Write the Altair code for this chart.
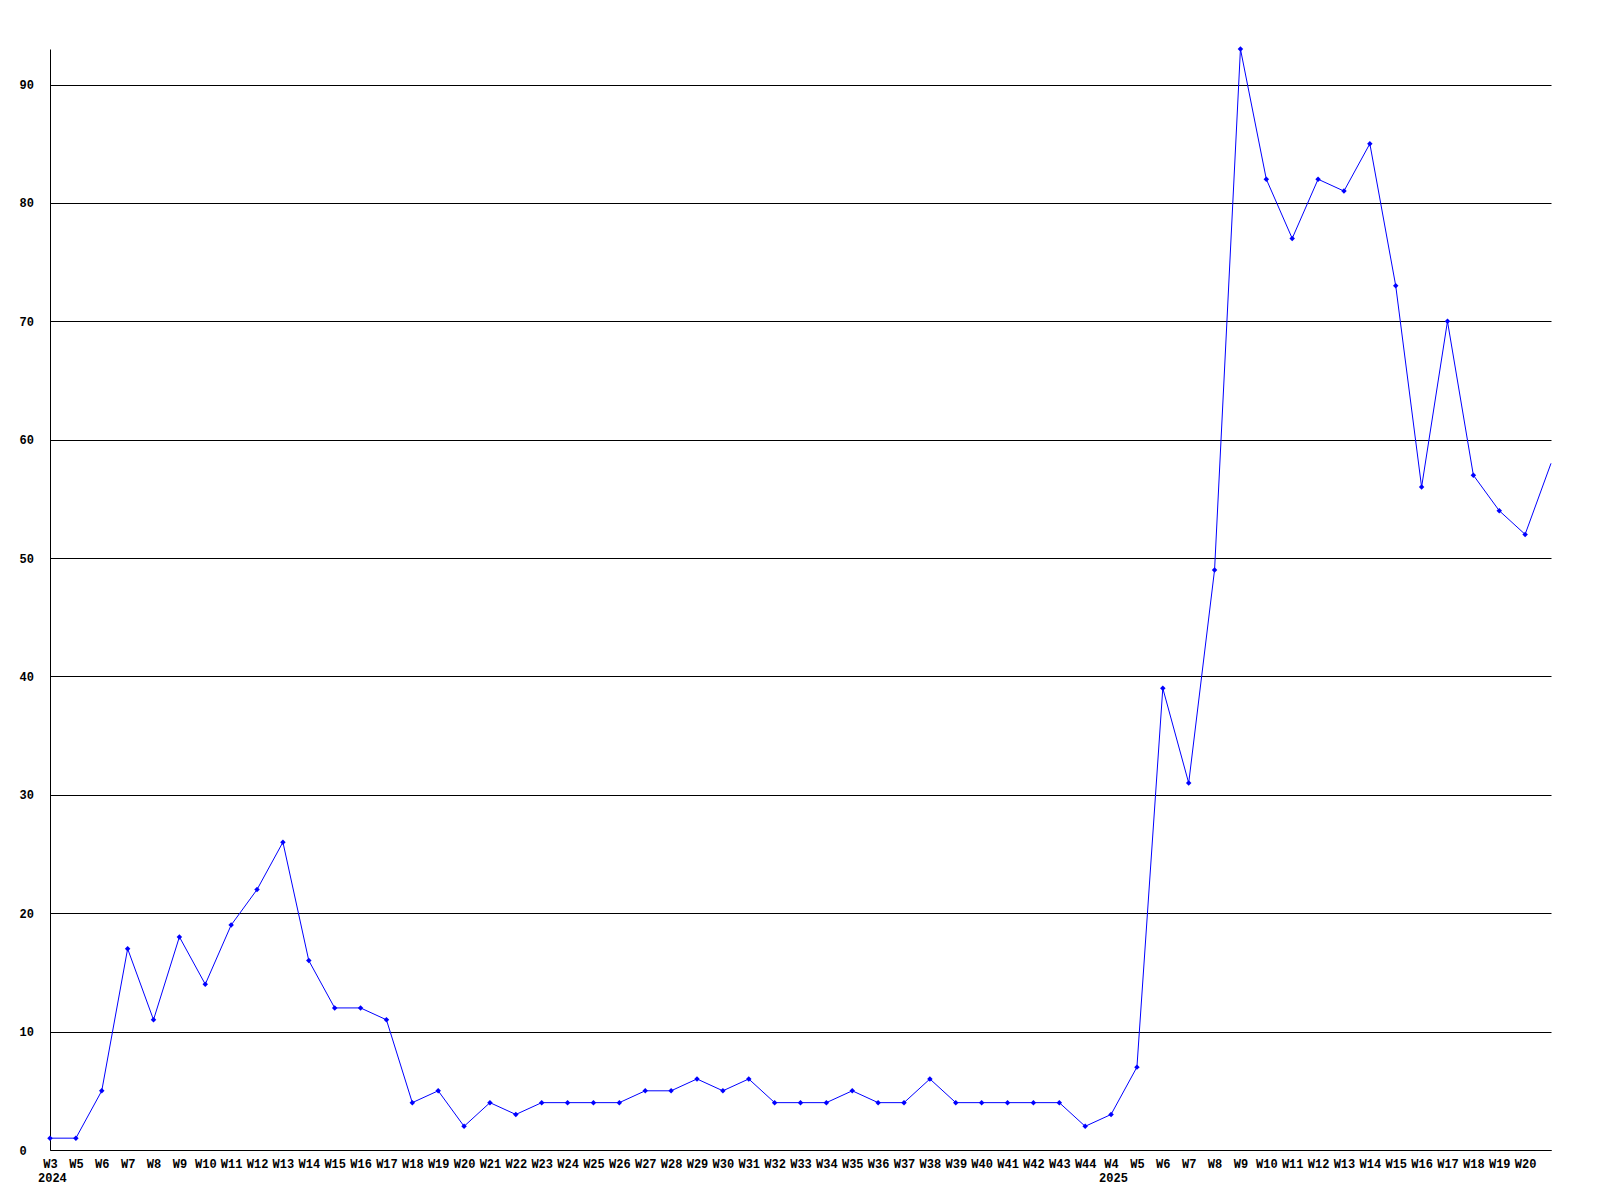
import altair as alt
import pandas as pd

weeks = ["W3", "W5", "W6", "W7", "W8", "W9", "W10", "W11", "W12", "W13", "W14", "W15",
         "W16", "W17", "W18", "W19", "W20", "W21", "W22", "W23", "W24", "W25", "W26",
         "W27", "W28", "W29", "W30", "W31", "W32", "W33", "W34", "W35", "W36", "W37",
         "W38", "W39", "W40", "W41", "W42", "W43", "W44",
         "W4", "W5", "W6", "W7", "W8", "W9", "W10", "W11", "W12", "W13", "W14", "W15",
         "W16", "W17", "W18", "W19", "W20", "W21"]
values = [1, 1, 5, 17, 11, 18, 14, 19, 22, 26, 16, 12,
          12, 11, 4, 5, 2, 4, 3, 4, 4, 4, 4,
          5, 5, 6, 5, 6, 4, 4, 4, 5, 4, 4,
          6, 4, 4, 4, 4, 4, 2,
          3, 7, 39, 31, 49, 93, 82, 77, 82, 81, 85, 73,
          56, 70, 57, 54, 52, 58]
# last week is partial: drawn without marker and without label
complete = [True] * (len(values) - 1) + [False]
years = ["2024", "2025"]
year_pos = [0, 41]

df = pd.DataFrame({"idx": list(range(len(values))), "week": weeks, "value": values,
                   "complete": complete})
df_year = pd.DataFrame({"idx": year_pos, "year": years})

n_labels = len(weeks) - 1
label_arr = "[" + ",".join("'" + w + "'" for w in weeks[:n_labels]) + "]"

W, H = 1501, 1101
FONT = "Liberation Mono"

x_scale = alt.Scale(domain=[0, len(values) - 1], nice=False, zero=False)
y_scale = alt.Scale(domain=[0, 93], nice=False)

x_axis = alt.Axis(values=list(range(n_labels)), labelExpr=label_arr + "[datum.value]",
                  ticks=False, grid=False, domain=True, domainColor="black",
                  labelOverlap=False, labelFlush=False, labelPadding=8, labelBound=False,
                  labelFont=FONT, labelFontWeight="bold", labelFontSize=12,
                  labelColor="black", title=None)
y_axis = alt.Axis(values=list(range(0, 100, 10)), ticks=False, grid=True,
                  gridColor="black", gridOpacity=1, gridWidth=1,
                  domain=True, domainColor="black",
                  labelAlign="left", labelPadding=31, labelOverlap=False,
                  labelFont=FONT, labelFontWeight="bold", labelFontSize=12,
                  labelColor="black", title=None)

X = alt.X("idx:Q", scale=x_scale, axis=x_axis)
Y = alt.Y("value:Q", scale=y_scale, axis=y_axis)

base = alt.Chart(df)
line = base.mark_line(color="#0000FF", strokeWidth=1).encode(x=X, y=Y)
points = base.transform_filter("datum.complete").mark_point(
    shape="diamond", filled=True, color="#0000FF", size=30, opacity=1
).encode(x=X, y=Y)

year_text = alt.Chart(df_year).mark_text(
    align="left", baseline="top", dx=-12, font=FONT, fontWeight="bold",
    fontSize=12, color="black"
).encode(x=X, y=alt.value(H + 23), text="year:N")

chart = alt.layer(line, points, year_text).properties(
    width=W, height=H,
    padding={"left": 11, "top": 38, "right": 0, "bottom": 0},
    background="white",
).configure_view(stroke=None).configure_axis(labelOverlap=False)

chart.save("out.html", embed_options={"renderer": "svg", "actions": False})
